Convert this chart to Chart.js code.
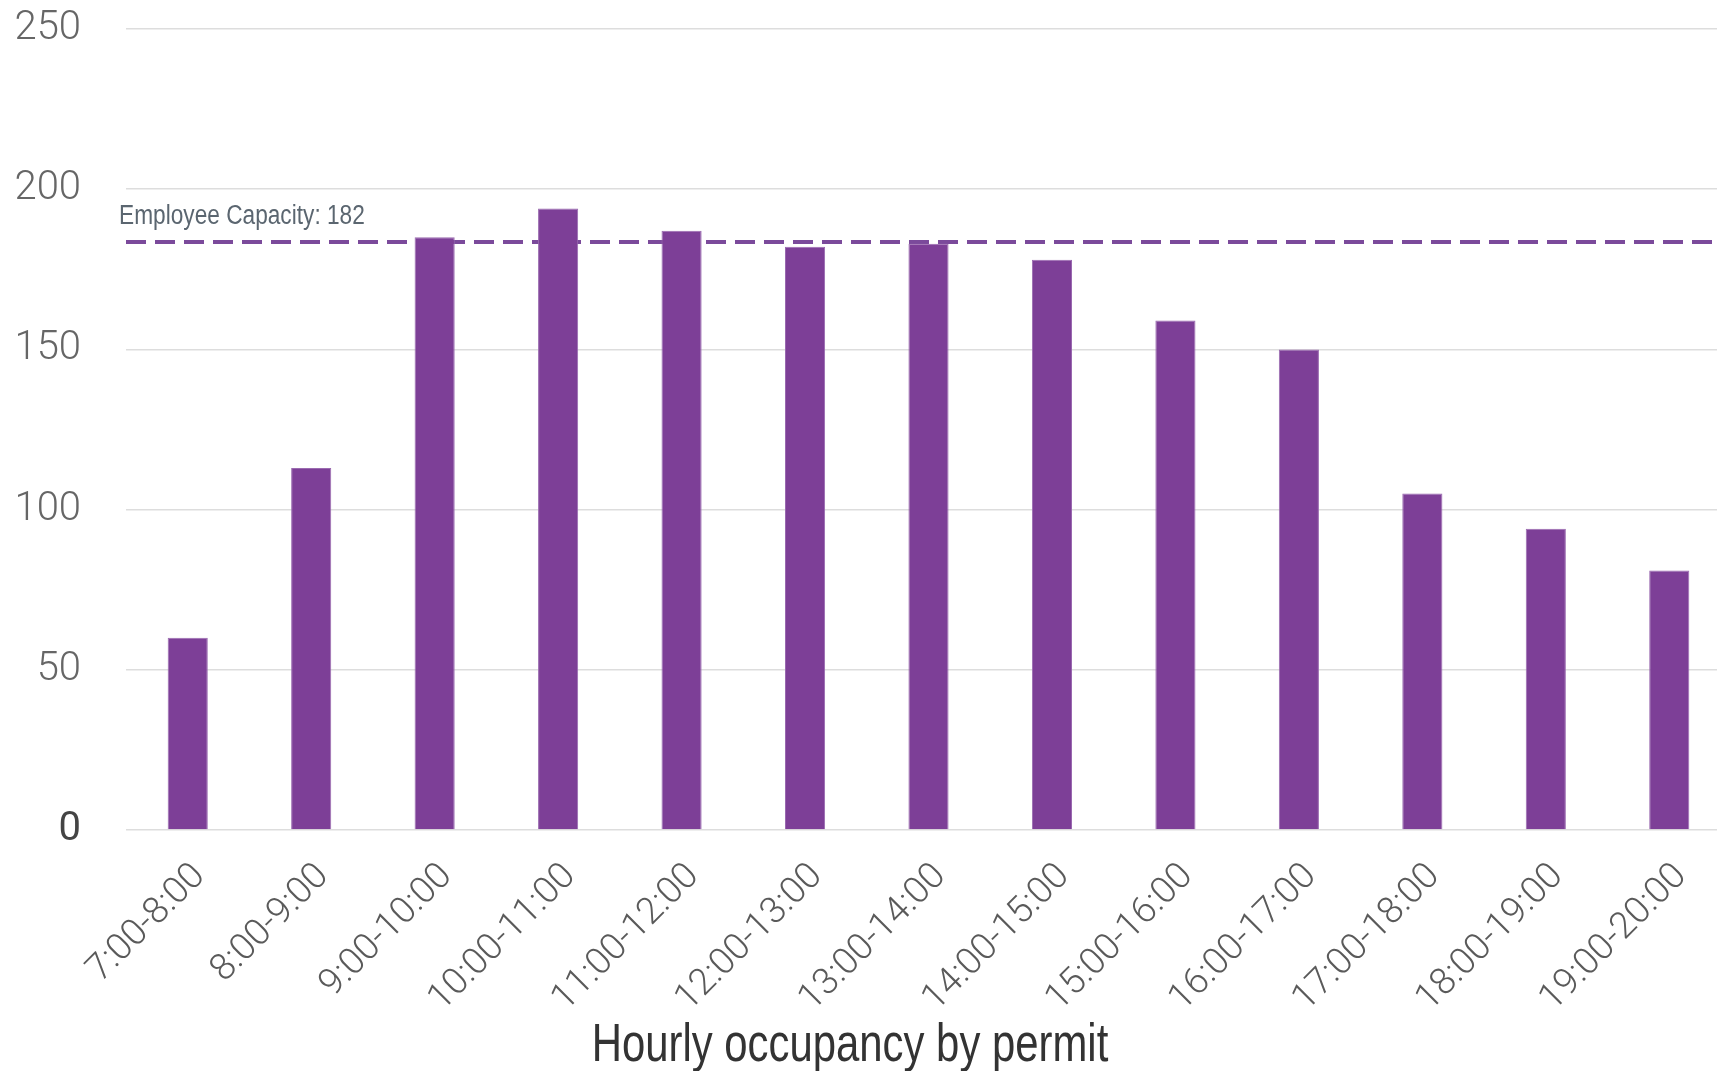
<!DOCTYPE html>
<html>
<head>
<meta charset="utf-8">
<script src="https://cdn.jsdelivr.net/npm/chart.js@4.4.0/dist/chart.umd.min.js"></script>
<style>
  html, body { margin: 0; padding: 0; background: #fff; overflow: hidden; }
  /* the plot runs a little past the right edge of the picture, like the original crop */
  #wrap { width: 1731px; height: 1071px; position: relative; }
</style>
</head>
<body>
<div id="wrap"><canvas id="occupancyChart"></canvas></div>
<script>
// data
const hourLabels = ['7:00-8:00', '8:00-9:00', '9:00-10:00', '10:00-11:00', '11:00-12:00', '12:00-13:00',
    '13:00-14:00', '14:00-15:00', '15:00-16:00', '16:00-17:00', '17:00-18:00', '18:00-19:00', '19:00-20:00'];
const occupancy = [60, 113, 185, 194, 187, 182, 183, 178, 159, 150, 105, 94, 81];
const capacityValue = 183.5; // where the dashed line sits on the axis
const capacityText = 'Employee Capacity: 182';
const chartTitle = 'Hourly occupancy by permit';
const yMin = 0;
const yMax = 250;
const yStep = 50;

const narrowFont = "'Liberation Sans', Arial, sans-serif";
const lightFont = "Roboto, 'Open Sans', sans-serif";

// draw condensed text by squeezing a normal face horizontally
function drawNarrowText(ctx, text, x, y, size, squeeze, color, align) {
    ctx.save();
    ctx.font = size + 'px ' + narrowFont;
    ctx.fillStyle = color;
    ctx.textBaseline = 'alphabetic';
    ctx.textAlign = align;
    ctx.translate(x, y);
    ctx.scale(squeeze, 1);
    ctx.fillText(text, 0, 0);
    ctx.restore();
}

// dashed capacity line + its label
const capacityLine = {
    id: 'capacityLine',
    beforeDatasetsDraw(chart) {
        const { ctx, chartArea, scales } = chart;
        const y = scales.y.getPixelForValue(capacityValue);
        ctx.save();
        ctx.strokeStyle = '#7b4a9b';
        ctx.lineWidth = 4;
        ctx.setLineDash([20, 9]);
        ctx.beginPath();
        ctx.moveTo(chartArea.left, y);
        ctx.lineTo(chart.width, y);
        ctx.stroke();
        ctx.restore();
        drawNarrowText(ctx, capacityText, chartArea.left - 7, y - 18, 27, 0.84, '#5b6670', 'left');
    }
};

// title under the axis, condensed like the original
const bottomTitle = {
    id: 'bottomTitle',
    afterDraw(chart) {
        drawNarrowText(chart.ctx, chartTitle, 850, 1061, 53, 0.79, '#333333', 'center');
    }
};

const ctx = document.getElementById('occupancyChart').getContext('2d');
new Chart(ctx, {
    type: 'bar',
    data: {
        labels: hourLabels,
        datasets: [{
            label: 'Occupancy',
            data: occupancy,
            backgroundColor: '#7d3f97',
            borderColor: '#9a6ab0',
            borderWidth: 1,
            barPercentage: 0.325,
            categoryPercentage: 1,
        }],
    },
    options: {
        responsive: true,
        maintainAspectRatio: false,
        animation: false,
        layout: {
            padding: { top: 29, right: 0, bottom: 0, left: 0 },
        },
        plugins: {
            legend: { display: false },
            tooltip: { enabled: false },
        },
        scales: {
            x: {
                grid: { display: false },
                border: { display: false },
                ticks: {
                    autoSkip: false,
                    maxRotation: 45,
                    minRotation: 45,
                    padding: 17,
                    labelOffset: 12,
                    color: '#5a5a5a',
                    font: { family: lightFont, size: 37, weight: 300 },
                },
                afterFit: scale => { scale.height = 241; },
            },
            y: {
                min: yMin,
                max: yMax,
                border: { display: false },
                grid: { color: '#dddddd', lineWidth: 1.5, drawTicks: false },
                ticks: {
                    stepSize: yStep,
                    padding: 45,
                    color: c => (c.tick && c.tick.value === 0 ? '#444' : '#666'),
                    font: c => (c.tick && c.tick.value === 0
                        ? { family: lightFont, size: 40, weight: 400 }
                        : { family: lightFont, size: 40, weight: 300 }),
                },
                afterFit: scale => {
                    scale.width = 126;
                    scale.paddingTop = 0;
                    scale.paddingBottom = 0;
                },
            },
        },
    },
    plugins: [capacityLine, bottomTitle],
});
</script>
</body>
</html>
